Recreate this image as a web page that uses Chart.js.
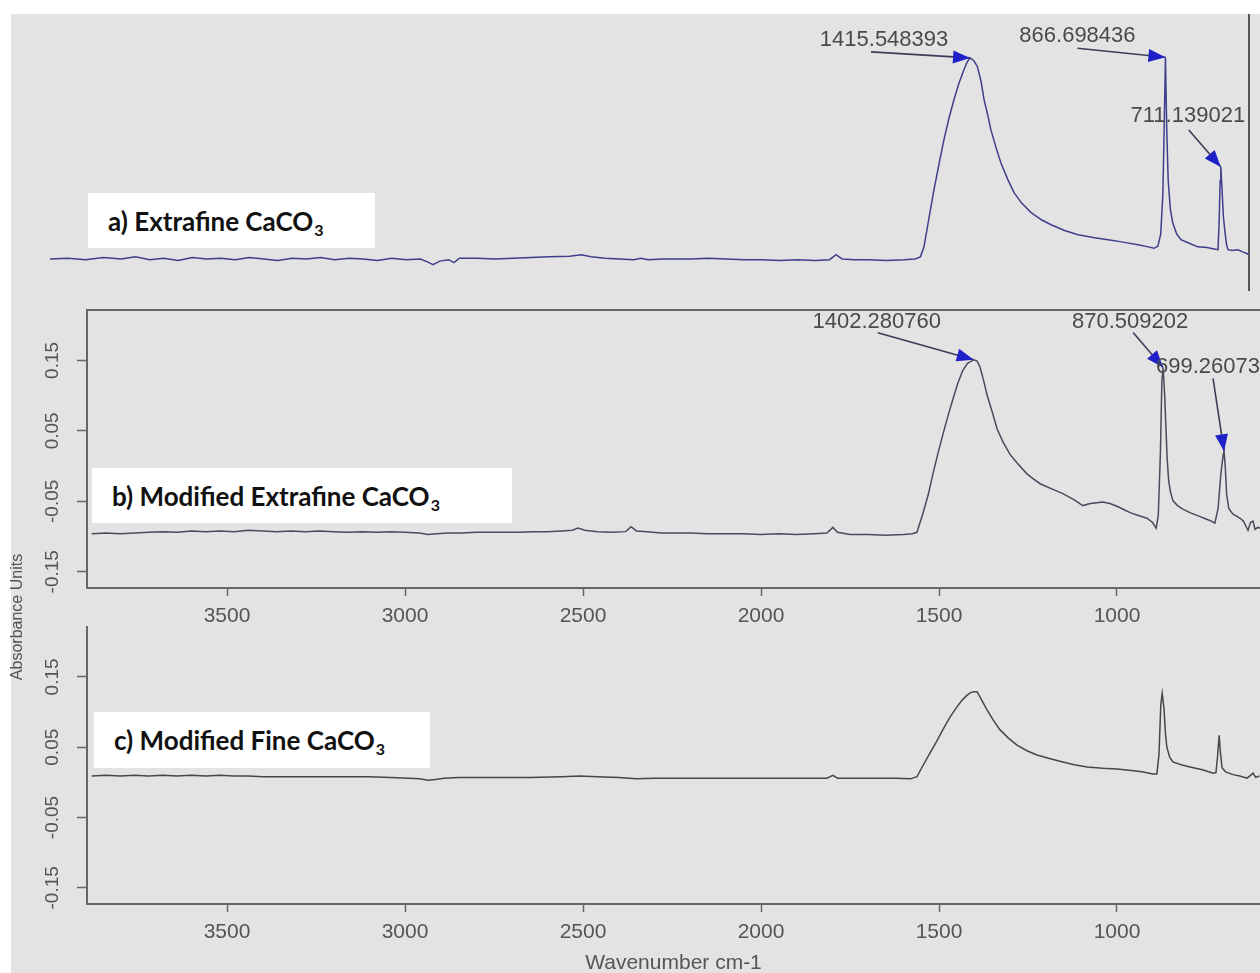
<!DOCTYPE html>
<html>
<head>
<meta charset="utf-8">
<script src="https://cdn.jsdelivr.net/npm/chart.js@4.4.1/dist/chart.umd.min.js"></script>
<style>
html, body { margin: 0; padding: 0; width: 1260px; height: 973px; overflow: hidden; background: #ffffff; }
#plate { position: absolute; left: 11px; top: 14px; right: 0; bottom: 0; background: #e3e3e3; }
canvas { position: absolute; left: 0; }
#cvA { top: 0; }
#cvB { top: 296px; }
#cvC { top: 540px; }
.tag { position: absolute; background: #ffffff; font-family: Lato, "Open Sans", sans-serif; font-weight: 700;
       font-size: 26px; color: #111; box-sizing: border-box; padding-left: 20px; display: flex; align-items: center; white-space: nowrap; }
.tag sub { font-size: 16px; vertical-align: -5px; line-height: 0; margin-left: 1px; }
</style>
</head>
<body>
<div id="plate"></div>
<canvas id="cvA" width="1260" height="300"></canvas>
<canvas id="cvB" width="1260" height="334"></canvas>
<canvas id="cvC" width="1260" height="433"></canvas>
<div class="tag" style="left:88px;top:193px;width:287px;height:55px;"><span>a) Extrafine CaCO<sub>3</sub></span></div>
<div class="tag" style="left:92px;top:468px;width:420px;height:55px;"><span>b) Modified Extrafine CaCO<sub>3</sub></span></div>
<div class="tag" style="left:94px;top:712px;width:336px;height:56px;"><span>c) Modified Fine CaCO<sub>3</sub></span></div>
<script>
// ---- axis ticks ----
const wavenumberTicks = [3500, 3000, 2500, 2000, 1500, 1000];
const absorbanceTicks = [0.15, 0.05, -0.05, -0.15];

// ---- a) Extrafine CaCO3 ----
const wnA = [4000, 3950, 3900, 3850, 3800, 3760, 3720, 3680, 3640, 3600, 3560, 3520, 3480, 3440, 3400, 3360, 3320, 3280, 3240, 3200,
  3160, 3120, 3080, 3040, 3000, 2960, 2940, 2924, 2905, 2880, 2865, 2850, 2800, 2750, 2700, 2650, 2600, 2540, 2508, 2480,
  2440, 2400, 2360, 2340, 2320, 2280, 2200, 2150, 2100, 2050, 2000, 1950, 1900, 1850, 1810, 1792, 1775, 1740, 1700, 1650,
  1600, 1570, 1555, 1545, 1530, 1517, 1500, 1489, 1475, 1461, 1447, 1433, 1424, 1415.548393, 1405, 1395, 1385, 1376, 1365, 1357,
  1340, 1329, 1310, 1292, 1270, 1244, 1215, 1188, 1150, 1112, 1070, 1028, 990, 944, 915, 899, 888, 880, 874, 870,
  866.698436, 863, 859, 853, 846, 835, 823, 800, 776, 750, 730, 719, 716, 713, 711.139021, 708, 704, 700, 695, 691,
  680, 663, 650, 640, 632];
const absA = [-0.100, -0.099, -0.101, -0.098, -0.100, -0.097, -0.101, -0.099, -0.102, -0.098, -0.100, -0.099, -0.101, -0.098, -0.100, -0.102, -0.099, -0.100, -0.098, -0.101,
  -0.099, -0.100, -0.102, -0.099, -0.101, -0.100, -0.104, -0.108, -0.103, -0.101, -0.105, -0.099, -0.099, -0.100, -0.099, -0.098, -0.097, -0.096, -0.094, -0.097,
  -0.099, -0.100, -0.101, -0.099, -0.101, -0.100, -0.100, -0.099, -0.100, -0.101, -0.101, -0.102, -0.101, -0.102, -0.101, -0.094, -0.100, -0.101, -0.101, -0.102,
  -0.101, -0.100, -0.097, -0.083, -0.040, -0.003, 0.040, 0.067, 0.097, 0.123, 0.146, 0.165, 0.176, 0.182, 0.178, 0.170, 0.150, 0.123, 0.100, 0.081,
  0.052, 0.035, 0.012, -0.007, -0.022, -0.035, -0.045, -0.052, -0.060, -0.066, -0.070, -0.073, -0.076, -0.080, -0.083, -0.085, -0.082, -0.065, -0.010, 0.090,
  0.183, 0.080, 0.010, -0.030, -0.050, -0.065, -0.073, -0.078, -0.083, -0.084, -0.086, -0.087, -0.050, 0.010, 0.029, 0.000, -0.040, -0.060, -0.080, -0.087,
  -0.088, -0.087, -0.090, -0.092, -0.094];
const peaksA = [1415.548393, 866.698436, 711.139021];

// ---- b) Modified Extrafine CaCO3 ----
const wnB = [3880, 3840, 3800, 3760, 3720, 3680, 3640, 3600, 3560, 3520, 3480, 3440, 3400, 3360, 3320, 3280, 3240, 3200, 3160, 3120,
  3080, 3040, 3000, 2960, 2935, 2910, 2880, 2840, 2800, 2760, 2720, 2680, 2640, 2600, 2560, 2530, 2514, 2495, 2460, 2420,
  2380, 2365, 2350, 2320, 2280, 2240, 2200, 2150, 2100, 2050, 2000, 1950, 1900, 1850, 1815, 1798, 1785, 1750, 1700, 1650,
  1600, 1575, 1562, 1545, 1530, 1517, 1503, 1489, 1475, 1461, 1447, 1433, 1420, 1402.28076, 1393, 1385, 1375, 1365, 1350, 1337,
  1320, 1301, 1280, 1253, 1235, 1216, 1185, 1152, 1120, 1096, 1075, 1056, 1040, 1020, 1000, 980, 963, 940, 916, 900,
  890, 884, 878, 874, 870.509202, 866, 863, 859, 855, 850, 843, 830, 815, 795, 770, 750, 735, 725, 716, 708,
  702, 699.260734, 696, 692, 686, 675, 654, 645, 638, 632, 625, 618, 612, 605, 598];
const absB = [-0.096, -0.095, -0.096, -0.095, -0.094, -0.093, -0.094, -0.092, -0.093, -0.092, -0.093, -0.091, -0.092, -0.093, -0.092, -0.093, -0.092, -0.093, -0.094, -0.093,
  -0.094, -0.093, -0.094, -0.095, -0.097, -0.096, -0.095, -0.095, -0.094, -0.094, -0.094, -0.094, -0.093, -0.093, -0.092, -0.091, -0.088, -0.091, -0.093, -0.094,
  -0.093, -0.086, -0.092, -0.093, -0.095, -0.095, -0.095, -0.096, -0.096, -0.096, -0.097, -0.096, -0.097, -0.096, -0.095, -0.087, -0.094, -0.097, -0.097, -0.098,
  -0.097, -0.096, -0.094, -0.067, -0.040, -0.011, 0.018, 0.045, 0.071, 0.095, 0.118, 0.136, 0.146, 0.151, 0.149, 0.141, 0.122, 0.101, 0.076, 0.053,
  0.034, 0.017, 0.004, -0.011, -0.018, -0.025, -0.032, -0.039, -0.048, -0.056, -0.053, -0.052, -0.051, -0.053, -0.057, -0.062, -0.066, -0.070, -0.074, -0.080,
  -0.088, -0.070, 0.020, 0.120, 0.140, 0.100, 0.060, 0.010, -0.020, -0.036, -0.049, -0.056, -0.061, -0.066, -0.071, -0.075, -0.078, -0.081, -0.060, -0.010,
  0.015, 0.021, 0.000, -0.040, -0.060, -0.068, -0.074, -0.078, -0.085, -0.091, -0.080, -0.078, -0.090, -0.087, -0.088];
const peaksB = [1402.28076, 870.509202, 699.260734];

// ---- c) Modified Fine CaCO3 ----
const wnC = [3880, 3840, 3800, 3760, 3720, 3680, 3640, 3600, 3560, 3520, 3480, 3440, 3400, 3300, 3200, 3100, 3040, 2990, 2960, 2935,
  2915, 2890, 2850, 2750, 2650, 2560, 2510, 2460, 2400, 2350, 2300, 2200, 2100, 2000, 1900, 1815, 1798, 1785, 1700, 1620,
  1580, 1562, 1545, 1525, 1507, 1489, 1470, 1450, 1435, 1421, 1410, 1400, 1393, 1380, 1365, 1348, 1329, 1305, 1281, 1253,
  1225, 1190, 1152, 1120, 1084, 1040, 1000, 960, 930, 899, 888, 882, 877, 873, 868, 864, 860, 852, 843, 820,
  795, 760, 730, 722, 717, 713, 710, 705, 695, 674, 655, 635, 625, 618, 610, 600];
const absC = [0.009, 0.010, 0.009, 0.010, 0.009, 0.010, 0.009, 0.010, 0.009, 0.010, 0.009, 0.009, 0.008, 0.008, 0.008, 0.008, 0.007, 0.006, 0.005, 0.003,
  0.004, 0.006, 0.007, 0.007, 0.007, 0.008, 0.009, 0.008, 0.007, 0.005, 0.006, 0.006, 0.006, 0.006, 0.006, 0.006, 0.010, 0.006, 0.006, 0.006,
  0.005, 0.008, 0.024, 0.042, 0.058, 0.075, 0.092, 0.107, 0.117, 0.124, 0.128, 0.129, 0.129, 0.117, 0.103, 0.089, 0.075, 0.063, 0.053, 0.045,
  0.039, 0.034, 0.029, 0.025, 0.022, 0.020, 0.019, 0.017, 0.015, 0.012, 0.012, 0.040, 0.110, 0.127, 0.105, 0.070, 0.050, 0.036, 0.029, 0.025,
  0.022, 0.018, 0.013, 0.014, 0.040, 0.067, 0.045, 0.021, 0.015, 0.011, 0.009, 0.006, 0.010, 0.013, 0.007, 0.009];

const FONT = '"Liberation Sans", Arial, Helvetica, sans-serif';
Chart.defaults.font.family = FONT;

const toPoints = (wn, ab) => wn.map((w, i) => ({ x: w, y: ab[i] }));

// Arrow + value label pointing at a peak of the first dataset
const peakNotes = {
  id: 'peakNotes',
  afterDatasetsDraw(chart, args, opts) {
    if (!opts || !opts.items) return;
    const { ctx } = chart;
    const xs = chart.scales.x, ys = chart.scales.y;
    const pts = chart.data.datasets[0].data;
    ctx.save();
    opts.items.forEach(it => {
      const p = pts.find(q => q.x === it.wn);
      const px = xs.getPixelForValue(p.x), py = ys.getPixelForValue(p.y);
      const tx = px + it.tail[0], ty = py + it.tail[1];
      ctx.strokeStyle = '#3c3c58';
      ctx.lineWidth = 1.6;
      ctx.beginPath(); ctx.moveTo(tx, ty); ctx.lineTo(px, py); ctx.stroke();
      const a = Math.atan2(py - ty, px - tx), L = 17, W = 6.5;
      ctx.fillStyle = '#2020c8';
      ctx.beginPath();
      ctx.moveTo(px, py);
      ctx.lineTo(px - L * Math.cos(a) + W * Math.sin(a), py - L * Math.sin(a) - W * Math.cos(a));
      ctx.lineTo(px - L * Math.cos(a) - W * Math.sin(a), py - L * Math.sin(a) + W * Math.cos(a));
      ctx.closePath(); ctx.fill();
      ctx.fillStyle = '#4a4a4a';
      ctx.font = '22px ' + FONT;
      ctx.textAlign = 'center';
      ctx.textBaseline = 'middle';
      ctx.fillText(it.wn.toFixed(6), px + it.text[0], py + it.text[1]);
    });
    ctx.restore();
  }
};

// Shared vertical title drawn at the left of the lower panels
const sideTitle = {
  id: 'sideTitle',
  afterDraw(chart, args, opts) {
    if (!opts || !opts.text) return;
    const { ctx, chartArea } = chart;
    ctx.save();
    ctx.translate(chartArea.left - 69, chartArea.top - 10);
    ctx.rotate(-Math.PI / 2);
    ctx.fillStyle = '#555';
    ctx.font = '16px ' + FONT;
    ctx.textAlign = 'center';
    ctx.textBaseline = 'middle';
    ctx.fillText(opts.text, 0, 0);
    ctx.restore();
  }
};
Chart.register(peakNotes, sideTitle);

const AXIS = '#666';
const TICK_TEXT = '#555';

// a) — bare trace with a right-hand frame line
new Chart(document.getElementById('cvA'), {
  type: 'line',
  data: { datasets: [{ data: toPoints(wnA, absA), borderColor: '#3f3f8c', borderWidth: 1.5, pointRadius: 0, tension: 0 }] },
  options: {
    responsive: false, animation: false,
    layout: { padding: { left: 50, right: 11, top: 15, bottom: 10 } },
    scales: {
      x: { type: 'linear', reverse: true, min: 632, max: 4000, display: false },
      y: { min: -0.1435, max: 0.2422, display: false },
      yR: { position: 'right', min: 0, max: 1, display: true,
            grid: { display: false }, ticks: { display: false },
            border: { display: true, color: '#555', width: 2 },
            afterFit: s => { s.width = 0; } }
    },
    plugins: {
      legend: { display: false }, tooltip: { enabled: false },
      peakNotes: { items: [
        { wn: peaksA[0], tail: [-99, -6], text: [-86, -18] },
        { wn: peaksA[1], tail: [-88, -9], text: [-88, -21] },
        { wn: peaksA[2], tail: [-32, -37], text: [-33, -51] }
      ] }
    }
  }
});

function boxedScales(xHeight, withTop, withTitle) {
  const s = {
    x: {
      type: 'linear', reverse: true, min: 598.3, max: 3893.3,
      afterBuildTicks: sc => { sc.ticks = wavenumberTicks.map(v => ({ value: v })); },
      afterFit: sc => { sc.height = xHeight; },
      grid: { display: true, drawOnChartArea: false, drawTicks: true, tickLength: 8, tickColor: AXIS, tickWidth: 1.5 },
      border: { display: true, color: AXIS, width: 2 },
      ticks: { color: TICK_TEXT, font: { size: 21 }, padding: 8, maxRotation: 0, autoSkip: false, callback: v => String(v) },
      title: withTitle ? { display: true, text: 'Wavenumber cm-1', color: TICK_TEXT, font: { size: 21 }, padding: { top: 0, bottom: -3 } } : { display: false }
    },
    y: {
      min: -0.173, max: 0.221,
      afterBuildTicks: sc => { sc.ticks = absorbanceTicks.map(v => ({ value: v })); },
      afterFit: sc => { sc.width = 87; },
      grid: { display: true, drawOnChartArea: false, drawTicks: true, tickLength: 10, tickColor: AXIS, tickWidth: 1.5 },
      border: { display: true, color: AXIS, width: 2 },
      ticks: { color: TICK_TEXT, font: { size: 19 }, padding: 3, minRotation: 90, maxRotation: 90, crossAlign: 'center',
               callback: v => v.toFixed(2) }
    }
  };
  if (withTop) {
    s.xTop = { type: 'linear', position: 'top', min: 0, max: 1, display: true,
               grid: { display: false }, ticks: { display: false },
               border: { display: true, color: AXIS, width: 2 },
               afterFit: sc => { sc.height = 0; } };
  }
  return s;
}

// b) — framed panel with peak labels
new Chart(document.getElementById('cvB'), {
  type: 'line',
  data: { datasets: [{ data: toPoints(wnB, absB), borderColor: '#4a4a5c', borderWidth: 1.5, pointRadius: 0, tension: 0 }] },
  options: {
    responsive: false, animation: false,
    layout: { padding: { left: 0, right: 0, top: 12, bottom: 0 } },
    scales: boxedScales(42, true, false),
    plugins: {
      legend: { display: false }, tooltip: { enabled: false },
      peakNotes: { items: [
        { wn: peaksB[0], tail: [-96, -27], text: [-97, -38] },
        { wn: peaksB[1], tail: [-30, -35], text: [-33, -46] },
        { wn: peaksB[2], tail: [-11, -73], text: [-10, -84] }
      ] }
    }
  }
});

// c) — open-top panel with the shared axis titles
new Chart(document.getElementById('cvC'), {
  type: 'line',
  data: { datasets: [{ data: toPoints(wnC, absC), borderColor: '#474747', borderWidth: 1.5, pointRadius: 0, tension: 0 }] },
  options: {
    responsive: false, animation: false,
    layout: { padding: { left: 0, right: 0, top: 87, bottom: 0 } },
    scales: boxedScales(69, false, true),
    plugins: {
      legend: { display: false }, tooltip: { enabled: false },
      sideTitle: { text: 'Absorbance Units' }
    }
  }
});
</script>
</body>
</html>
